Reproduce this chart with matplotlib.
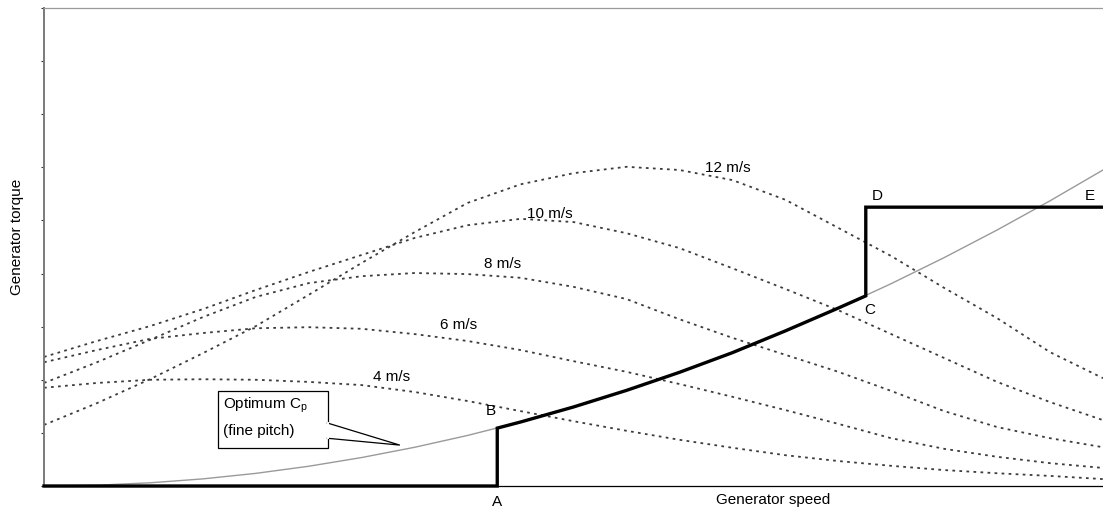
import matplotlib
matplotlib.use("Agg")
import matplotlib.pyplot as plt
from matplotlib.patches import Rectangle, Polygon

plt.rcParams['font.family'] = ['Liberation Sans', 'DejaVu Sans']
plt.rcParams['mathtext.fontset'] = 'custom'
plt.rcParams['mathtext.rm'] = 'Liberation Sans'

# Generator speed grid (arbitrary units)
speed = [0.0, 0.5, 1.0, 1.5, 2.0, 2.5, 3.0, 3.5, 4.0, 4.5, 5.0,
         5.5, 6.0, 6.5, 7.0, 7.5, 8.0, 8.5, 9.0, 9.5, 10.0]

# Torque-speed curves at constant wind speed
torque_12 = [1.15, 1.56, 2.01, 2.50, 3.01, 3.60, 4.20, 4.78, 5.33, 5.68, 5.89,
             6.01, 5.95, 5.76, 5.39, 4.86, 4.33, 3.73, 3.16, 2.52, 2.03]
torque_10 = [2.43, 2.73, 3.01, 3.33, 3.69, 4.03, 4.35, 4.67, 4.91, 5.03, 4.97,
             4.76, 4.48, 4.10, 3.71, 3.31, 2.86, 2.41, 1.96, 1.58, 1.24]
torque_8 = [1.94, 2.33, 2.75, 3.18, 3.56, 3.82, 3.95, 4.01, 3.99, 3.92, 3.75,
            3.52, 3.14, 2.79, 2.47, 2.15, 1.79, 1.41, 1.11, 0.90, 0.73]
torque_6 = [2.33, 2.56, 2.77, 2.88, 2.97, 2.99, 2.96, 2.86, 2.73, 2.56, 2.35,
            2.15, 1.92, 1.68, 1.43, 1.17, 0.90, 0.70, 0.55, 0.43, 0.34]
torque_4 = [1.85, 1.94, 2.00, 2.01, 2.00, 1.96, 1.90, 1.77, 1.60, 1.41, 1.22,
            1.04, 0.87, 0.72, 0.58, 0.47, 0.38, 0.30, 0.24, 0.19, 0.13]

wind_labels = ['12 m/s', '10 m/s', '8 m/s', '6 m/s', '4 m/s']
wind_label_pos = [(6.46, 5.99), (4.78, 5.12), (4.33, 4.18), (3.91, 3.03), (3.28, 2.05)]

# Optimum Cp (fine pitch) tracking curve
torque_opt = [0.0, 0.015, 0.06, 0.134, 0.238, 0.372, 0.536, 0.729, 0.952, 1.205, 1.488,
              1.80, 2.14, 2.51, 2.92, 3.35, 3.81, 4.30, 4.82, 5.37, 5.95]

# Operating strategy corner points
speed_A = 4.28
torque_B = 1.09
speed_C = 7.76
torque_C = 3.58
torque_D = 5.25
speed_E = 10.0

fig = plt.figure(figsize=(11.03, 5.14), dpi=100)
ax = fig.add_axes([44 / 1103, 28 / 514, 1 - 44 / 1103, 478 / 514])
ax.set_xlim(0, 10)
ax.set_ylim(0, 9)

curve_style = dict(color='#3c3c3c', lw=1.3, linestyle=(0, (1.5, 2.4)))
for t in [torque_12, torque_10, torque_8, torque_6, torque_4]:
    ax.plot(speed, t, **curve_style, zorder=2)
for lab, (lx, ly) in zip(wind_labels, wind_label_pos):
    ax.text(lx, ly, lab, ha='center', va='center', fontsize=11, zorder=4)

ax.plot(speed, torque_opt, color='#9a9a9a', lw=1.0, zorder=3)

# Operating line A-B-C-D-E
op_x = [0.0, speed_A, speed_A]
op_y = [0.0, 0.0, torque_B]
for s, t in zip(speed, torque_opt):
    if speed_A < s < speed_C:
        op_x.append(s)
        op_y.append(t)
op_x += [speed_C, speed_C, speed_E]
op_y += [torque_C, torque_D, torque_D]
ax.plot(op_x, op_y, color='black', lw=2.4, solid_joinstyle='miter', zorder=5, clip_on=False)

point_labels = {'A': (4.28, -0.30), 'B': (4.22, 1.41), 'C': (7.80, 3.31),
                'D': (7.87, 5.46), 'E': (9.88, 5.46)}
for lab, (px, py) in point_labels.items():
    ax.text(px, py, lab, ha='center', va='center', fontsize=11, zorder=6, clip_on=False)

# Callout box for the optimum Cp curve
ax.add_patch(Rectangle((1.64, 0.72), 1.04, 1.07, facecolor='white', edgecolor='black',
                       lw=0.9, zorder=6))
ax.add_patch(Polygon([(2.67, 1.19), (3.36, 0.77), (2.67, 0.90)], closed=False,
                     facecolor='white', edgecolor='black', lw=0.9, zorder=7))
ax.plot([2.68, 2.68], [0.91, 1.18], color='white', lw=1.4, zorder=7)
ax.text(1.69, 1.52, 'Optimum C$_\\mathrm{p}$', ha='left', va='center', fontsize=11, zorder=8)
ax.text(1.69, 1.03, '(fine pitch)', ha='left', va='center', fontsize=11, zorder=8)

ax.spines['right'].set_visible(False)
ax.spines['left'].set_color('#7a7a7a')
ax.spines['left'].set_linewidth(1.4)
ax.spines['top'].set_color('#9a9a9a')
ax.spines['top'].set_linewidth(0.9)
ax.spines['bottom'].set_color('black')
ax.spines['bottom'].set_linewidth(0.9)

ax.set_xticks([])
ax.set_yticks(range(0, 10))
ax.set_yticklabels([])
ax.tick_params(axis='y', length=2.5, width=0.8, color='#333333', direction='out')

fig.text(17 / 1103, 1 - 237 / 514, 'Generator torque', rotation=90,
         ha='center', va='center', fontsize=11)
fig.text(773 / 1103, 1 - 500 / 514, 'Generator speed', ha='center', va='center', fontsize=11)

fig.savefig('out.png', dpi=100)
